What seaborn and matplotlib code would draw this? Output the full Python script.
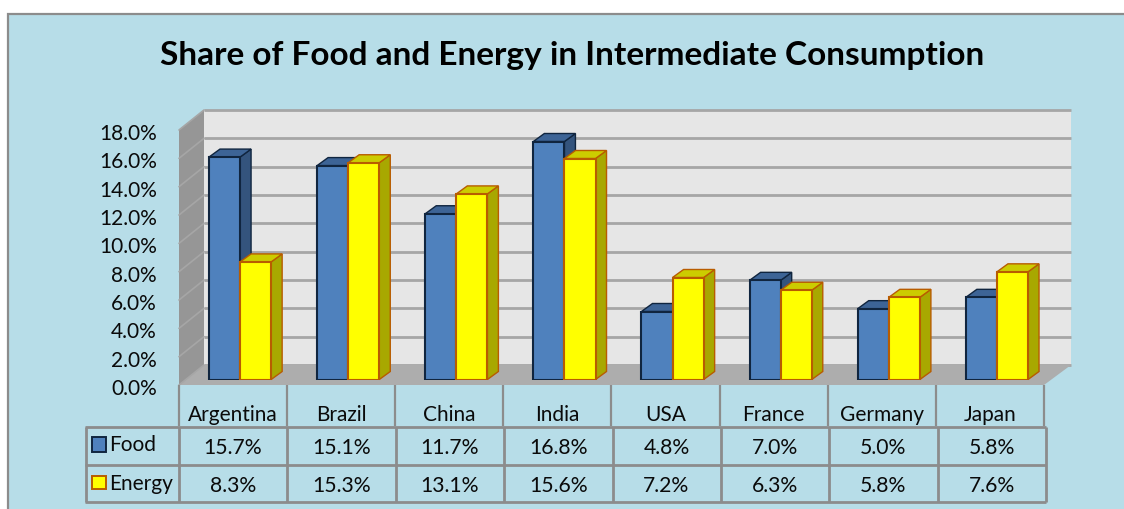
import numpy as np
import pandas as pd
import seaborn as sns
import matplotlib
matplotlib.use("Agg")
import matplotlib.pyplot as plt
from matplotlib.patches import Polygon, Rectangle

# data
countries = ["Argentina", "Brazil", "China", "India", "USA", "France", "Germany", "Japan"]
food = [15.7, 15.1, 11.7, 16.8, 4.8, 7.0, 5.0, 5.8]
energy = [8.3, 15.3, 13.1, 15.6, 7.2, 6.3, 5.8, 7.6]
y_ticks = [0, 2, 4, 6, 8, 10, 12, 14, 16, 18]
title = "Share of Food and Energy in Intermediate Consumption"

W, H = 1124, 509
BG = "#b7dde8"
LINE = "#8c8c8c"
INK = "#0a0a0a"

sns.set_theme(style="white")
plt.rcParams["font.family"] = ["Lato", "DejaVu Sans"]

df = pd.DataFrame({"country": countries * 2,
                   "value": food + energy,
                   "series": ["Food"] * 8 + ["Energy"] * 8})


def box(x0, y_top, x1, y_bottom):
    # pixel box -> figure fractions
    return [x0 / W, 1 - y_bottom / H, (x1 - x0) / W, (y_bottom - y_top) / H]


def fx(x):
    return x / W


def fy(y):
    return 1 - y / H


fig = plt.figure(figsize=(W / 100, H / 100), dpi=100, facecolor="white")

# blue panel, runs off the right and bottom of the picture
fig.add_artist(Rectangle((fx(8), fy(530)), fx(1140), fy(14) - fy(530), transform=fig.transFigure,
                         facecolor=BG, edgecolor=LINE, linewidth=1.6, zorder=-5))

# back wall
back = fig.add_axes(box(204, 110, 1071, 365), zorder=1)
back.set_facecolor("#e6e6e6")
back.set_xlim(0, 8)
back.set_ylim(0, 18)
back.hlines(y_ticks, 0, 8, color="#a6a6a6", linewidth=2, clip_on=False)
back.set_xticks([])
back.set_yticks([])
for s in back.spines.values():
    s.set_visible(False)

# left wall and floor
fig.add_artist(Polygon([(fx(179), fy(130)), (fx(204), fy(110)), (fx(204), fy(365)), (fx(179), fy(385))],
                       transform=fig.transFigure, facecolor="#969696", edgecolor="none", zorder=2))
fig.add_artist(Polygon([(fx(179), fy(385)), (fx(204), fy(365)), (fx(1071), fy(365)), (fx(1044), fy(385))],
                       transform=fig.transFigure, facecolor="#adadad", edgecolor="none", zorder=2))

# grid lines running down the left wall
for v in y_ticks:
    yb = 365 - v * 255 / 18
    yf = 385 - v * 255 / 18
    fig.add_artist(plt.Line2D([fx(179), fx(204)], [fy(yf), fy(yb)], transform=fig.transFigure,
                              color="#a6a6a6", linewidth=1.2, zorder=2))

# front plane, carries the y labels (sits a little low, like the labels do)
front = fig.add_axes(box(179, 132, 1044, 387), zorder=3)
front.patch.set_alpha(0)
front.set_xlim(0, 8)
front.set_ylim(0, 18)
front.set_xticks([])
front.set_yticks(y_ticks)
front.set_yticklabels(["%.1f%%" % v for v in y_ticks], fontsize=15, color=INK)
front.tick_params(axis="y", length=0, pad=16)
for s in front.spines.values():
    s.set_visible(False)

# bars
bars_ax = fig.add_axes(box(186, 124.5, 1051, 379.5), zorder=4)
bars_ax.patch.set_alpha(0)
sns.barplot(data=df, x="country", y="value", hue="series", order=countries,
            palette={"Food": "#4f81bd", "Energy": "#ffff00"}, width=0.575, gap=0,
            saturation=1, legend=False, ax=bars_ax)
bars_ax.set_xlim(-0.5, 7.5)
bars_ax.set_ylim(0, 18)
bars_ax.axis("off")

dx = 11 * 8 / 865
dy = 8 * 18 / 255
sides = {"Food": "#34547d", "Energy": "#a8a800"}
tops = {"Food": "#3d6496", "Energy": "#cccc00"}
edges = {"Food": "#10253f", "Energy": "#b85c00"}
names = ["Food"] * 8 + ["Energy"] * 8
for bar, name in zip(list(bars_ax.patches)[:16], names):
    x0, w, h = bar.get_x(), bar.get_width(), bar.get_height()
    x1 = x0 + w
    ec = edges[name]
    z = 2 if name == "Food" else 3
    bars_ax.add_patch(Polygon([(x1, 0), (x1 + dx, dy), (x1 + dx, h + dy), (x1, h)], facecolor=sides[name],
                              edgecolor=ec, linewidth=1, zorder=z, clip_on=False))
    bars_ax.add_patch(Polygon([(x0, h), (x0 + dx, h + dy), (x1 + dx, h + dy), (x1, h)], facecolor=tops[name],
                              edgecolor=ec, linewidth=1, zorder=z, clip_on=False))
    bar.set_edgecolor(ec)
    bar.set_linewidth(1.5)
    bar.set_zorder(z + 0.5)

# data table under the plot
table = fig.add_axes(box(85, 385, 1046, 503), zorder=5)
table.patch.set_alpha(0)
table.axis("off")
table.set_xlim(85, 1046)
table.set_ylim(503, 385)
pitch = (1046 - 179) / 8
col_x = [179 + i * pitch for i in range(9)]
head_x = [179 + i * 108.1 for i in range(9)]
table.vlines(head_x, 385, 426, color=LINE, linewidth=1.6, clip_on=False)
table.vlines(col_x, 427, 502, color=LINE, linewidth=2, clip_on=False)
table.vlines(86, 427, 502, color=LINE, linewidth=2, clip_on=False)
table.hlines([427, 465, 502], 85, 1046, color=LINE, linewidth=2, clip_on=False)

for i, c in enumerate(countries):
    table.text(head_x[i] + 54, 415, c, ha="center", va="center", fontsize=15, color=INK)
    table.text(col_x[i] + 54, 447.5, "%.1f%%" % food[i], ha="center", va="center", fontsize=15.2, color=INK)
    table.text(col_x[i] + 54, 485.5, "%.1f%%" % energy[i], ha="center", va="center", fontsize=15.2, color=INK)

# legend keys in the table
table.add_patch(Rectangle((91.5, 437), 14, 14.5, facecolor="#4f81bd", edgecolor="#10253f", linewidth=1.4))
table.add_patch(Rectangle((91.5, 476), 14, 12.5, facecolor="#ffff00", edgecolor="#b85c00", linewidth=1.4))
table.text(109.5, 445, "Food", ha="left", va="center", fontsize=15, color=INK)
table.text(109.5, 484, "Energy", ha="left", va="center", fontsize=15, color=INK)

fig.text(fx(572), fy(55.5), title, ha="center", va="center", fontsize=24, fontweight="bold", color="black")

fig.savefig("out.png", dpi=100, facecolor="white")
